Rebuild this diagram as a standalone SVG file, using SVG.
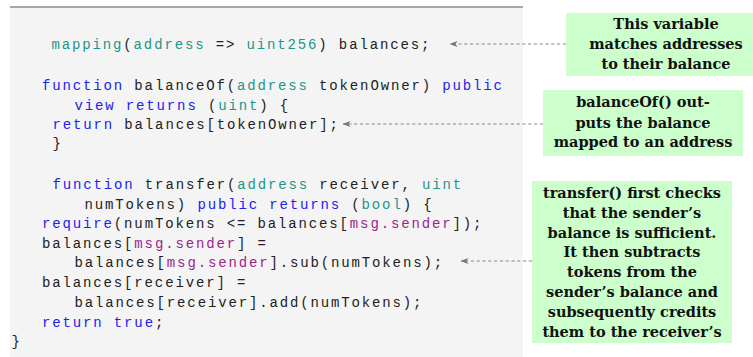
<svg xmlns="http://www.w3.org/2000/svg" width="753" height="357" viewBox="0 0 753 357">
<style>
.code{font-family:"Liberation Mono","DejaVu Sans Mono",monospace;font-size:14px;letter-spacing:1.86px;fill:#222;white-space:pre}
.kw{fill:#2222ee}
.ty{fill:#1f958a}
.ms{fill:#9a1f8c}
.note{font-family:"DejaVu Serif","Liberation Serif",serif;font-weight:bold;font-size:14.5px;fill:#111;text-anchor:middle}
.box{fill:#ccffcc}
.conn{stroke:#888;stroke-width:1;stroke-dasharray:3.2 2.6;fill:none}
</style>
<defs>
<marker id="ah" viewBox="0 0 8 6" refX="7.5" refY="3" markerWidth="8" markerHeight="6" markerUnits="userSpaceOnUse" orient="auto">
<path d="M0,0 L8,3 L0,6 L2,3 Z" fill="#777"/>
</marker>
</defs>
<g id="code">
<rect x="10" y="7.5" width="513" height="350" fill="#f4f4f4"/>
<line x1="10" y1="7" x2="523" y2="7" stroke="#555" stroke-width="1.2"/>
<text class="code" x="51.5" y="49"><tspan class="ty">mapping</tspan>(<tspan class="ty">address</tspan> =&gt; <tspan class="ty">uint256</tspan>) balances;</text>
<text class="code" x="42" y="90"><tspan class="kw">function</tspan> balanceOf(<tspan class="ty">address</tspan> tokenOwner) <tspan class="kw">public</tspan></text>
<text class="code" x="74.5" y="110"><tspan class="kw">view</tspan> <tspan class="kw">returns</tspan> (<tspan class="ty">uint</tspan>) {</text>
<text class="code" x="52.5" y="129"><tspan class="kw">return</tspan> balances[tokenOwner];</text>
<text class="code" x="52.5" y="148">}</text>
<text class="code" x="52.5" y="189"><tspan class="kw">function</tspan> transfer(<tspan class="ty">address</tspan> receiver, <tspan class="ty">uint</tspan></text>
<text class="code" x="84.5" y="209">numTokens) <tspan class="kw">public</tspan> <tspan class="kw">returns</tspan> (<tspan class="ty">bool</tspan>) {</text>
<text class="code" x="42" y="228"><tspan class="kw">require</tspan>(numTokens &lt;= balances[<tspan class="ms">msg.sender</tspan>]);</text>
<text class="code" x="42" y="248">balances[<tspan class="ms">msg.sender</tspan>] =</text>
<text class="code" x="74.5" y="267">balances[<tspan class="ms">msg.sender</tspan>].sub(numTokens);</text>
<text class="code" x="42" y="287">balances[receiver] =</text>
<text class="code" x="74.5" y="307">balances[receiver].add(numTokens);</text>
<text class="code" x="42" y="327"><tspan class="kw">return</tspan> <tspan class="kw">true</tspan>;</text>
<text class="code" x="11.5" y="346">}</text>
</g>
<g id="connectors">
<line class="conn" x1="566" y1="44" x2="450" y2="44" marker-end="url(#ah)"/>
<line class="conn" x1="543" y1="124" x2="343" y2="124" marker-end="url(#ah)"/>
<line class="conn" x1="532" y1="261" x2="461" y2="261" marker-end="url(#ah)"/>
</g>
<g id="note1">
<rect class="box" x="566" y="13" width="200" height="63"/>
<text class="note" x="666" y="29">This variable</text>
<text class="note" x="666" y="49">matches addresses</text>
<text class="note" x="666" y="69">to their balance</text>
</g>
<g id="note2">
<rect class="box" x="543" y="90" width="200" height="66"/>
<text class="note" x="643" y="107">balanceOf() out-</text>
<text class="note" x="643" y="128">puts the balance</text>
<text class="note" x="643" y="147">mapped to an address</text>
</g>
<g id="note3">
<rect class="box" x="532" y="181" width="200" height="162"/>
<text class="note" x="632" y="198">transfer() first checks</text>
<text class="note" x="632" y="218">that the sender’s</text>
<text class="note" x="632" y="238">balance is sufficient.</text>
<text class="note" x="632" y="257">It then subtracts</text>
<text class="note" x="632" y="277">tokens from the</text>
<text class="note" x="632" y="297">sender’s balance and</text>
<text class="note" x="632" y="317">subsequently credits</text>
<text class="note" x="632" y="337">them to the receiver’s</text>
</g>
</svg>
